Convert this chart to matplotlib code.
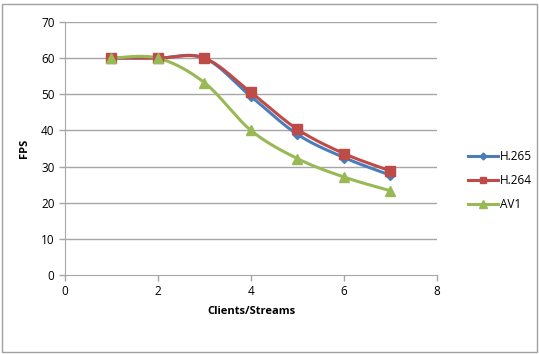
import numpy as np
import matplotlib as mpl; mpl.use("Agg")
import matplotlib.pyplot as plt
from matplotlib.lines import Line2D
from matplotlib.patches import Rectangle

plt.rcParams.update({"font.family": ["Open Sans", "DejaVu Sans"]})

clients = [1, 2, 3, 4, 5, 6, 7]
h265 = [60, 60, 60, 49.4, 38.9, 32.5, 27.6]
h264 = [60, 60, 60, 50.5, 40.3, 33.6, 28.8]
av1 = [60, 60, 53.2, 40.0, 32.2, 27.1, 23.3]
series = [("H.265", h265, "#4a7ebb", "D", 5),
          ("H.264", h264, "#be4b48", "s", 6.5),
          ("AV1", av1, "#98b954", "^", 7)]
GRID = "#a6a6a6"


def smooth(x, y, n=30):
    # Excel-style smoothed line: cubic Bezier with Catmull-Rom control points
    x = np.asarray(x, float); y = np.asarray(y, float)
    P = np.column_stack([x, y])
    out = [P[0]]
    t = np.linspace(0, 1, n)[1:, None]
    for i in range(len(P) - 1):
        p0 = P[i - 1] if i > 0 else P[i]
        p3 = P[i + 2] if i + 2 < len(P) else P[i + 1]
        c1 = P[i] + (P[i + 1] - p0) / 6
        c2 = P[i + 1] - (p3 - P[i]) / 6
        seg = ((1 - t) ** 3 * P[i] + 3 * (1 - t) ** 2 * t * c1
               + 3 * (1 - t) * t ** 2 * c2 + t ** 3 * P[i + 1])
        out.extend(seg)
    out = np.array(out)
    return out[:, 0], out[:, 1]


fig = plt.figure(figsize=(5.39, 3.54), dpi=100)
fig.patch.set_facecolor("white")
fig.add_artist(Rectangle((0.004, 0.006), 0.992, 0.983, transform=fig.transFigure,
                         fill=False, edgecolor="#a0a0a0", lw=1.0))

ax = fig.add_axes([0.1206, 0.2232, 0.690, 0.7147])
for yv in range(10, 80, 10):
    ax.axhline(yv, color=GRID, lw=1.0, zorder=1)

handles = []
for name, vals, col, mk, ms in series:
    sx, sy = smooth(clients, vals)
    ax.plot(sx, sy, color=col, lw=2.2, zorder=3, solid_capstyle="round")
    ax.plot(clients, vals, ls="none", marker=mk, ms=ms, color=col, zorder=4)
    handles.append(Line2D([], [], color=col, lw=2.2, marker=mk, ms=ms - 1.5, label=name))

ax.set_xlim(0, 8); ax.set_ylim(0, 70)
ax.set_xticks([0, 2, 4, 6, 8]); ax.set_yticks(range(0, 80, 10))
for s in ["top", "right"]:
    ax.spines[s].set_visible(False)
for s in ["left", "bottom"]:
    ax.spines[s].set_color(GRID)
ax.tick_params(colors=GRID, labelcolor="black", labelsize=8.5, length=4, width=1)
ax.tick_params(axis="x", pad=3)
ax.set_xlabel("Clients/Streams", fontsize=8, weight="bold", labelpad=6)
ax.set_ylabel("FPS", fontsize=8, weight="bold", labelpad=8)

fig.legend(handles=handles, loc="center left", bbox_to_anchor=(0.848, 0.49),
           frameon=False, fontsize=8.5, handlelength=2.6, labelspacing=0.9,
           handletextpad=0.15)

fig.savefig("out.png", dpi=100, facecolor="white")
